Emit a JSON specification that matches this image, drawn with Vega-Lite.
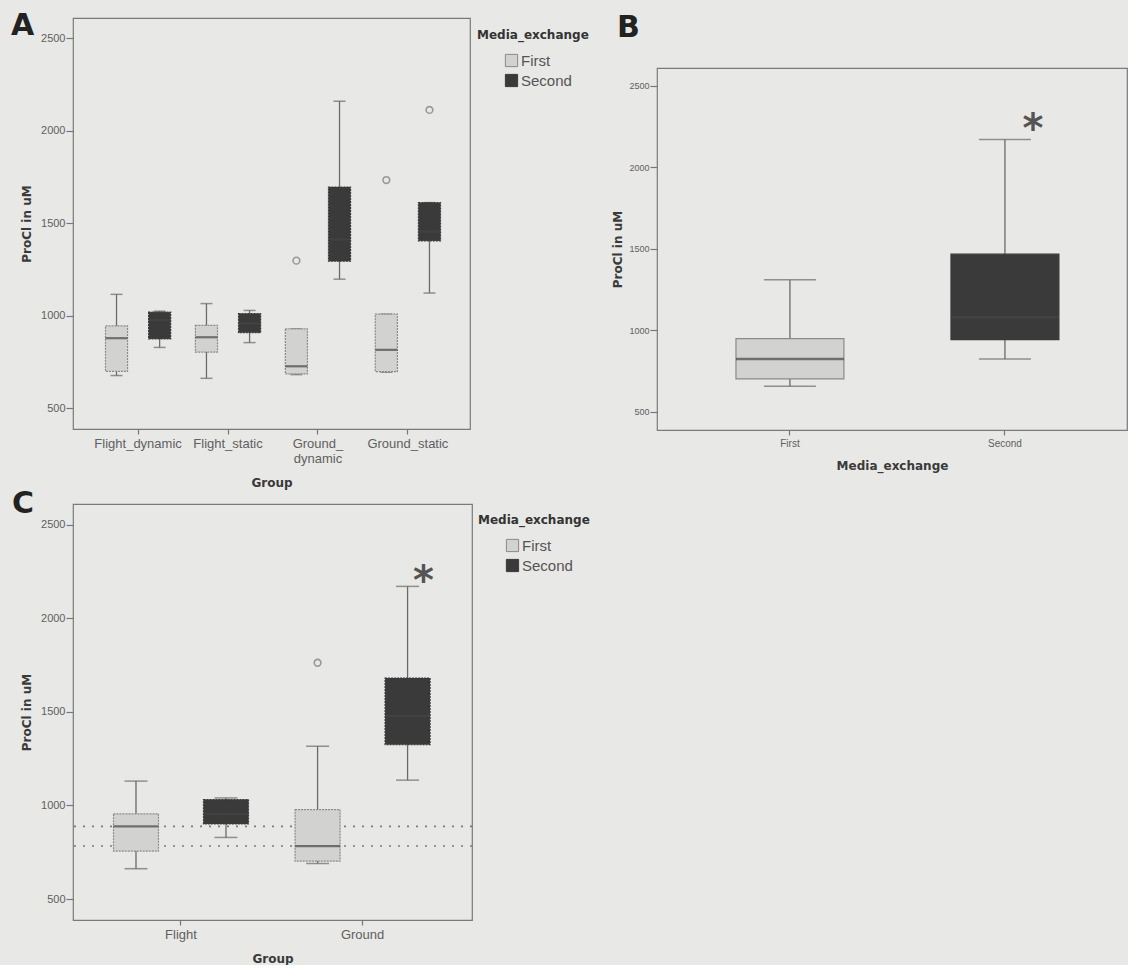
{
  "$schema": "https://vega.github.io/schema/vega-lite/v6.json",
  "background": "#e8e8e6",
  "padding": {"left": 10, "top": 10, "right": 0, "bottom": 0},
  "datasets": {
    "A_box": [
      {"Group": "Flight_dynamic", "Media": "First", "lower": 677, "q1": 700, "median": 879, "q3": 945, "upper": 1116},
      {"Group": "Flight_dynamic", "Media": "Second", "lower": 829, "q1": 875, "median": 977, "q3": 1020, "upper": 1025},
      {"Group": "Flight_static", "Media": "First", "lower": 662, "q1": 804, "median": 884, "q3": 948, "upper": 1066},
      {"Group": "Flight_static", "Media": "Second", "lower": 855, "q1": 909, "median": 959, "q3": 1012, "upper": 1029},
      {"Group": "Ground_dynamic", "Media": "First", "lower": 682, "q1": 686, "median": 727, "q3": 929, "upper": 929},
      {"Group": "Ground_dynamic", "Media": "Second", "lower": 1198, "q1": 1295, "median": 1413, "q3": 1696, "upper": 2160},
      {"Group": "Ground_static", "Media": "First", "lower": 695, "q1": 698, "median": 816, "q3": 1009, "upper": 1009},
      {"Group": "Ground_static", "Media": "Second", "lower": 1123, "q1": 1405, "median": 1455, "q3": 1612, "upper": 1612}
    ],
    "A_out": [
      {"Group": "Ground_dynamic", "Media": "First", "value": 1298},
      {"Group": "Ground_static", "Media": "First", "value": 1734},
      {"Group": "Ground_static", "Media": "Second", "value": 2113}
    ],
    "B_box": [
      {"Media": "First", "lower": 657, "q1": 702, "median": 824, "q3": 949, "upper": 1310},
      {"Media": "Second", "lower": 824, "q1": 943, "median": 1080, "q3": 1467, "upper": 2171}
    ],
    "B_star": [{"Media": "Second", "value": 2270, "label": "*"}],
    "C_box": [
      {"Group": "Flight", "Media": "First", "lower": 662, "q1": 756, "median": 888, "q3": 955, "upper": 1130},
      {"Group": "Flight", "Media": "Second", "lower": 829, "q1": 901, "median": 955, "q3": 1031, "upper": 1040},
      {"Group": "Ground", "Media": "First", "lower": 690, "q1": 702, "median": 783, "q3": 978, "upper": 1316},
      {"Group": "Ground", "Media": "Second", "lower": 1135, "q1": 1325, "median": 1478, "q3": 1680, "upper": 2170}
    ],
    "C_out": [{"Group": "Ground", "Media": "First", "value": 1762}],
    "C_ref": [{"value": 888}, {"value": 783}],
    "C_star": [{"Group": "Ground", "Media": "Second", "value": 2240, "label": "*"}]
  },
  "config": {
    "font": "Liberation Sans",
    "view": {"stroke": "#7a7a7a", "strokeWidth": 1.2},
    "axis": {
      "domain": false, "grid": false, "tickColor": "#777777", "tickWidth": 1.2,
      "labelColor": "#606060", "labelFont": "Liberation Sans", "labelFontSize": 11,
      "titleFont": "DejaVu Sans", "titleFontWeight": "bold", "titleColor": "#3a3a3a", "titleFontSize": 12
    },
    "axisX": {"tickSize": 5, "labelFontSize": 13, "labelPadding": 3, "titlePadding": 12, "labelAngle": 0},
    "axisY": {"tickSize": 7, "labelPadding": 1, "titlePadding": 7, "format": "d"},
    "title": {"font": "DejaVu Sans", "fontSize": 30, "fontWeight": "bold", "color": "#222222", "anchor": "start", "frame": "group", "offset": 0},
    "legend": {
      "orient": "none", "padding": 0, "symbolType": "square", "symbolSize": 150, "symbolStrokeWidth": 1,
      "labelFont": "Liberation Sans", "labelFontSize": 15, "labelColor": "#555555",
      "titleFont": "DejaVu Sans", "titleFontSize": 12, "titleFontWeight": "bold", "titleColor": "#333333",
      "titlePadding": 11, "rowPadding": 3, "symbolOffset": 27, "labelOffset": 2
    }
  },
  "bounds": "full",
  "spacing": 20,
  "resolve": {"scale": {"xOffset": "independent", "fill": "independent", "stroke": "independent", "y": "independent", "x": "independent"}},
  "hconcat": [
    {
      "spacing": -1,
      "bounds": "full",
      "resolve": {"scale": {"xOffset": "independent", "fill": "independent", "stroke": "independent", "y": "independent", "x": "independent"}},
      "vconcat": [
        {
          "width": 397, "height": 411,
          "title": {"text": "A", "dx": -62, "dy": 27},
          "layer": [
            {
              "data": {"name": "A_box"},
              "mark": {"type": "rule", "color": "#6a6a6a", "strokeWidth": 1.3},
              "encoding": {
                "x": {"field": "Group", "type": "nominal", "title": "Group", "scale": {"paddingInner": 0, "paddingOuter": 0.207, "align": 0.54}, "axis": {"labelExpr": "datum.label == 'Ground_dynamic' ? ['Ground_', 'dynamic'] : datum.label"}},
                "xOffset": {"field": "Media", "type": "nominal", "scale": {"paddingInner": 0.488, "paddingOuter": 0.287}},
                "y": {"field": "lower", "type": "quantitative", "title": "ProCl in uM", "scale": {"domain": [388, 2610], "nice": false, "zero": false}, "axis": {"values": [500, 1000, 1500, 2000, 2500]}},
                "y2": {"field": "upper"}
              }
            },
            {
              "data": {"name": "A_box"},
              "mark": {"type": "tick", "color": "#6a6a6a", "size": 12, "thickness": 1.5},
              "encoding": {
                "x": {"field": "Group", "type": "nominal", "title": "Group"},
                "xOffset": {"field": "Media", "type": "nominal"},
                "y": {"field": "lower", "type": "quantitative", "title": "ProCl in uM"}
              }
            },
            {
              "data": {"name": "A_box"},
              "mark": {"type": "tick", "color": "#6a6a6a", "size": 12, "thickness": 1.5},
              "encoding": {
                "x": {"field": "Group", "type": "nominal", "title": "Group"},
                "xOffset": {"field": "Media", "type": "nominal"},
                "y": {"field": "upper", "type": "quantitative", "title": "ProCl in uM"}
              }
            },
            {
              "data": {"name": "A_box"},
              "mark": {"type": "bar", "strokeWidth": 1.2, "strokeDash": [2, 1]},
              "encoding": {
                "x": {"field": "Group", "type": "nominal", "title": "Group"},
                "xOffset": {"field": "Media", "type": "nominal"},
                "y": {"field": "q1", "type": "quantitative", "title": "ProCl in uM"},
                "y2": {"field": "q3"},
                "fill": {"field": "Media", "type": "nominal", "scale": {"domain": ["First", "Second"], "range": ["#d2d2d0", "#3a3a3a"]}, "legend": {"title": "Media_exchange", "legendX": 404, "legendY": 12}},
                "stroke": {"field": "Media", "type": "nominal", "scale": {"domain": ["First", "Second"], "range": ["#8a8a8a", "#3a3a3a"]}, "legend": {"title": "Media_exchange", "legendX": 404, "legendY": 12}}
              }
            },
            {
              "data": {"name": "A_box"},
              "mark": {"type": "tick", "color": "#444444", "size": 22, "thickness": 2.2},
              "encoding": {
                "x": {"field": "Group", "type": "nominal", "title": "Group"},
                "xOffset": {"field": "Media", "type": "nominal"},
                "y": {"field": "median", "type": "quantitative", "title": "ProCl in uM"}
              }
            },
            {
              "data": {"name": "A_out"},
              "mark": {"type": "point", "shape": "circle", "filled": false, "color": "#777777", "size": 45, "strokeWidth": 1.6},
              "encoding": {
                "x": {"field": "Group", "type": "nominal", "title": "Group"},
                "xOffset": {"field": "Media", "type": "nominal"},
                "y": {"field": "value", "type": "quantitative", "title": "ProCl in uM"}
              }
            }
          ]
        },
        {
          "width": 399, "height": 416,
          "title": {"text": "C", "dx": -61, "dy": 19},
          "layer": [
            {
              "data": {"name": "C_box"},
              "mark": {"type": "rule", "color": "#6a6a6a", "strokeWidth": 1.3},
              "encoding": {
                "x": {"field": "Group", "type": "nominal", "title": "Group", "scale": {"paddingInner": 0, "paddingOuter": 0.0986, "align": 0.48}},
                "xOffset": {"field": "Media", "type": "nominal", "scale": {"paddingInner": 0.5, "paddingOuter": 0.259}},
                "y": {"field": "lower", "type": "quantitative", "title": "ProCl in uM", "scale": {"domain": [388, 2610], "nice": false, "zero": false}, "axis": {"values": [500, 1000, 1500, 2000, 2500]}},
                "y2": {"field": "upper"}
              }
            },
            {
              "data": {"name": "C_ref"},
              "mark": {"type": "rule", "color": "#7a7a7a", "strokeWidth": 1.6, "strokeDash": [2, 7]},
              "encoding": {
                "y": {"field": "value", "type": "quantitative", "title": "ProCl in uM"}
              }
            },
            {
              "data": {"name": "C_box"},
              "mark": {"type": "tick", "color": "#6a6a6a", "size": 23, "thickness": 1.5},
              "encoding": {
                "x": {"field": "Group", "type": "nominal", "title": "Group"},
                "xOffset": {"field": "Media", "type": "nominal"},
                "y": {"field": "lower", "type": "quantitative", "title": "ProCl in uM"}
              }
            },
            {
              "data": {"name": "C_box"},
              "mark": {"type": "tick", "color": "#6a6a6a", "size": 23, "thickness": 1.5},
              "encoding": {
                "x": {"field": "Group", "type": "nominal", "title": "Group"},
                "xOffset": {"field": "Media", "type": "nominal"},
                "y": {"field": "upper", "type": "quantitative", "title": "ProCl in uM"}
              }
            },
            {
              "data": {"name": "C_box"},
              "mark": {"type": "bar", "strokeWidth": 1.2, "strokeDash": [2, 1]},
              "encoding": {
                "x": {"field": "Group", "type": "nominal", "title": "Group"},
                "xOffset": {"field": "Media", "type": "nominal"},
                "y": {"field": "q1", "type": "quantitative", "title": "ProCl in uM"},
                "y2": {"field": "q3"},
                "fill": {"field": "Media", "type": "nominal", "scale": {"domain": ["First", "Second"], "range": ["#d2d2d0", "#3a3a3a"]}, "legend": {"title": "Media_exchange", "legendX": 405, "legendY": 11}},
                "stroke": {"field": "Media", "type": "nominal", "scale": {"domain": ["First", "Second"], "range": ["#8a8a8a", "#3a3a3a"]}, "legend": {"title": "Media_exchange", "legendX": 405, "legendY": 11}}
              }
            },
            {
              "data": {"name": "C_box"},
              "mark": {"type": "tick", "color": "#444444", "size": 45, "thickness": 2.2},
              "encoding": {
                "x": {"field": "Group", "type": "nominal", "title": "Group"},
                "xOffset": {"field": "Media", "type": "nominal"},
                "y": {"field": "median", "type": "quantitative", "title": "ProCl in uM"}
              }
            },
            {
              "data": {"name": "C_out"},
              "mark": {"type": "point", "shape": "circle", "filled": false, "color": "#777777", "size": 45, "strokeWidth": 1.6},
              "encoding": {
                "x": {"field": "Group", "type": "nominal", "title": "Group"},
                "xOffset": {"field": "Media", "type": "nominal"},
                "y": {"field": "value", "type": "quantitative", "title": "ProCl in uM"}
              }
            },
            {
              "data": {"name": "C_star"},
              "mark": {"type": "text", "font": "DejaVu Sans", "fontSize": 40, "fontWeight": "bold", "color": "#555555", "baseline": "middle", "dx": 16, "dy": 9},
              "encoding": {
                "x": {"field": "Group", "type": "nominal", "title": "Group"},
                "xOffset": {"field": "Media", "type": "nominal"},
                "y": {"field": "value", "type": "quantitative", "title": "ProCl in uM"},
                "text": {"field": "label"}
              }
            }
          ]
        }
      ]
    },
    {
      "bounds": "full",
      "spacing": -12,
      "vconcat": [
        {
          "width": 10, "height": 1,
          "view": {"stroke": null},
          "data": {"values": [{"t": ""}]},
          "mark": {"type": "text"},
          "encoding": {"text": {"field": "t"}}
        },
        {
          "width": 470, "height": 362,
          "title": {"text": "B", "dx": -40, "dy": -21},
          "layer": [
            {
              "data": {"name": "B_box"},
              "mark": {"type": "rule", "color": "#6a6a6a", "strokeWidth": 1.3},
              "encoding": {
                "x": {"field": "Media", "type": "nominal", "title": "Media_exchange", "scale": {"paddingInner": 0.498, "paddingOuter": 0.342, "align": 0.537}, "axis": {"labelFontSize": 10}},
                "y": {"field": "lower", "type": "quantitative", "title": "ProCl in uM", "scale": {"domain": [388, 2610], "nice": false, "zero": false}, "axis": {"values": [500, 1000, 1500, 2000, 2500], "labelFontSize": 9, "titlePadding": 4}},
                "y2": {"field": "upper"}
              }
            },
            {
              "data": {"name": "B_box"},
              "mark": {"type": "tick", "color": "#6a6a6a", "size": 52, "thickness": 1.5},
              "encoding": {
                "x": {"field": "Media", "type": "nominal", "title": "Media_exchange"},
                "y": {"field": "lower", "type": "quantitative", "title": "ProCl in uM"}
              }
            },
            {
              "data": {"name": "B_box"},
              "mark": {"type": "tick", "color": "#6a6a6a", "size": 52, "thickness": 1.5},
              "encoding": {
                "x": {"field": "Media", "type": "nominal", "title": "Media_exchange"},
                "y": {"field": "upper", "type": "quantitative", "title": "ProCl in uM"}
              }
            },
            {
              "data": {"name": "B_box"},
              "mark": {"type": "bar", "strokeWidth": 1.2},
              "encoding": {
                "x": {"field": "Media", "type": "nominal", "title": "Media_exchange"},
                "y": {"field": "q1", "type": "quantitative", "title": "ProCl in uM"},
                "y2": {"field": "q3"},
                "fill": {"field": "Media", "type": "nominal", "scale": {"domain": ["First", "Second"], "range": ["#d2d2d0", "#3a3a3a"]}, "legend": null},
                "stroke": {"field": "Media", "type": "nominal", "scale": {"domain": ["First", "Second"], "range": ["#8a8a8a", "#3a3a3a"]}, "legend": null}
              }
            },
            {
              "data": {"name": "B_box"},
              "mark": {"type": "tick", "color": "#444444", "size": 108, "thickness": 2.5},
              "encoding": {
                "x": {"field": "Media", "type": "nominal", "title": "Media_exchange"},
                "y": {"field": "median", "type": "quantitative", "title": "ProCl in uM"}
              }
            },
            {
              "data": {"name": "B_star"},
              "mark": {"type": "text", "font": "DejaVu Sans", "fontSize": 40, "fontWeight": "bold", "color": "#555555", "baseline": "middle", "dx": 28, "dy": 7},
              "encoding": {
                "x": {"field": "Media", "type": "nominal", "title": "Media_exchange"},
                "y": {"field": "value", "type": "quantitative", "title": "ProCl in uM"},
                "text": {"field": "label"}
              }
            }
          ]
        }
      ]
    }
  ]
}
